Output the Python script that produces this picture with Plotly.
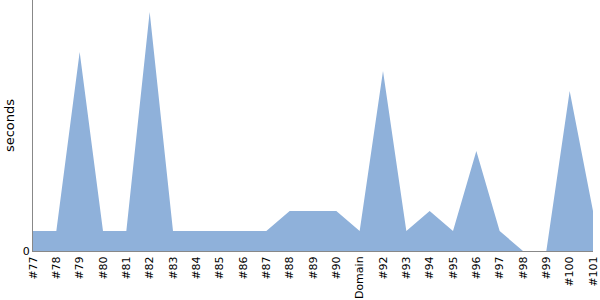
import plotly.graph_objects as go

categories = ["#77", "#78", "#79", "#80", "#81", "#82", "#83", "#84", "#85", "#86",
              "#87", "#88", "#89", "#90", "Domain", "#92", "#93", "#94", "#95", "#96",
              "#97", "#98", "#99", "#100", "#101"]
seconds = [1, 1, 9.95, 1, 1, 11.95, 1, 1, 1, 1,
           1, 2, 2, 2, 1, 9, 1, 2, 1, 5,
           1, 0, 0, 8, 2]

fig = go.Figure()
fig.add_trace(go.Scatter(
    x=list(range(len(categories))), y=seconds, mode="lines", fill="tozeroy",
    line=dict(color="rgb(143,177,218)", width=0),
    fillcolor="rgb(143,177,218)", hoverinfo="skip", showlegend=False,
))
fig.update_layout(
    width=600, height=300, margin=dict(l=33, r=5, t=0, b=49),
    paper_bgcolor="white", plot_bgcolor="white",
    font=dict(family="DejaVu Sans", color="black", size=11),
)
fig.update_xaxes(
    range=[0, len(categories) - 1], tickmode="array",
    tickvals=list(range(len(categories))), ticktext=categories,
    tickangle=-90, showgrid=False, zeroline=False,
    showline=True, linecolor="#888", linewidth=1, ticks="",
    tickfont=dict(size=11), ticklabeloverflow="allow",
)
fig.update_yaxes(
    range=[0, 12.55], tickvals=[0], ticktext=["0"], showgrid=False, zeroline=False,
    showline=True, linecolor="#888", linewidth=1, ticks="",
    title=dict(text="seconds", font=dict(size=13), standoff=5),
    tickfont=dict(size=11),
)
fig.write_html("out.html")
